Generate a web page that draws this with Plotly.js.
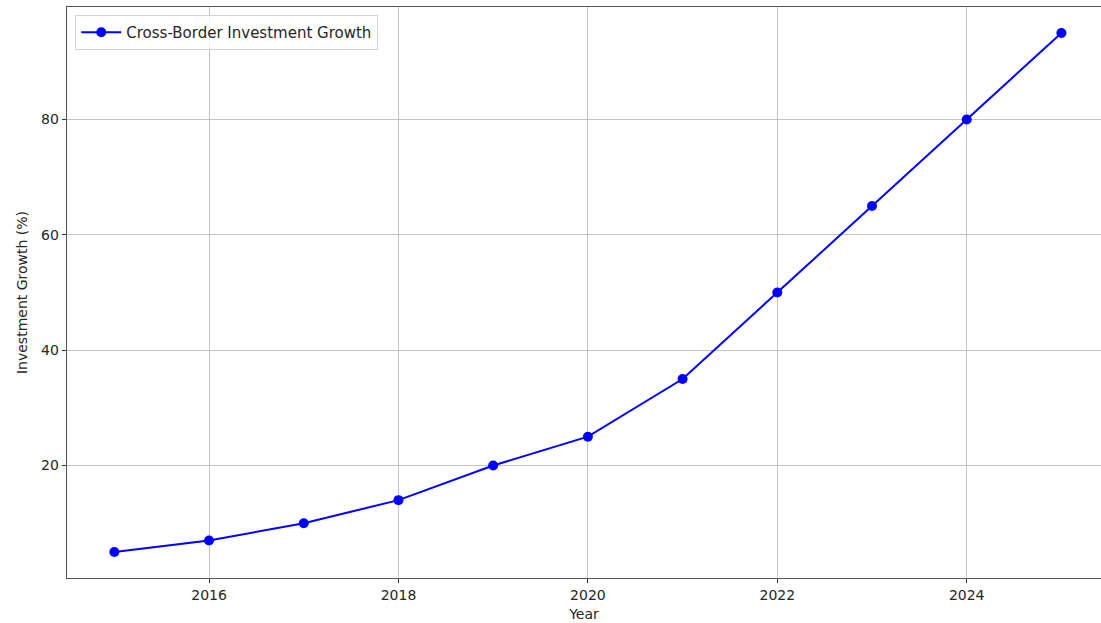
<!DOCTYPE html>
<html>
<head>
<meta charset="utf-8">
<script src="https://cdn.plot.ly/plotly-3.0.1.min.js"></script>
<style>html,body{margin:0;padding:0;background:#fff;}#chart{width:1101px;height:623px;}</style>
</head>
<body>
<div id="chart"></div>
<script>
const years = [2015, 2016, 2017, 2018, 2019, 2020, 2021, 2022, 2023, 2024, 2025];
const growth = [5, 7, 10, 14, 20, 25, 35, 50, 65, 80, 95];
const xTicks = [2016, 2018, 2020, 2022, 2024];
const yTicks = [20, 40, 60, 80];
const seriesName = 'Cross-Border Investment Growth';

const trace = {
  x: years, y: growth, name: seriesName,
  type: 'scatter', mode: 'lines+markers',
  line: {color: '#0000ff', width: 2},
  marker: {color: '#0000ff', size: 10}
};
const font = {family: 'DejaVu Sans, sans-serif', size: 14, color: '#262626'};
const layout = {
  width: 1101, height: 623,
  margin: {l: 67, r: 0, t: 7, b: 45},
  paper_bgcolor: '#fff', plot_bgcolor: '#fff',
  font: font,
  showlegend: true,
  legend: {x: 0.008, y: 0.986, xanchor: 'left', yanchor: 'top', itemwidth: 40,
    bgcolor: 'rgba(255,255,255,0.8)', bordercolor: '#d4d4d4', borderwidth: 1,
    font: {family: 'DejaVu Sans, sans-serif', size: 15, color: '#262626'}},
  xaxis: {
    range: [2014.5, 2025.418], tickvals: xTicks, ticktext: xTicks.map(String),
    showgrid: true, gridcolor: '#c4c4c4', gridwidth: 1,
    showline: true, linecolor: '#555', linewidth: 1.3, mirror: true,
    ticks: 'outside', ticklen: 4, tickcolor: '#333', zeroline: false,
    title: {text: 'Year', font: font, standoff: 7}
  },
  yaxis: {
    range: [0.5, 99.5], tickvals: yTicks, ticktext: yTicks.map(String),
    showgrid: true, gridcolor: '#c4c4c4', gridwidth: 1,
    showline: true, linecolor: '#555', linewidth: 1.3,
    ticks: 'outside', ticklen: 4, tickcolor: '#333', zeroline: false,
    title: {text: 'Investment Growth (%)', font: font, standoff: 10}
  }
};
Plotly.newPlot('chart', [trace], layout, {displayModeBar: false, staticPlot: true});
</script>
</body>
</html>
